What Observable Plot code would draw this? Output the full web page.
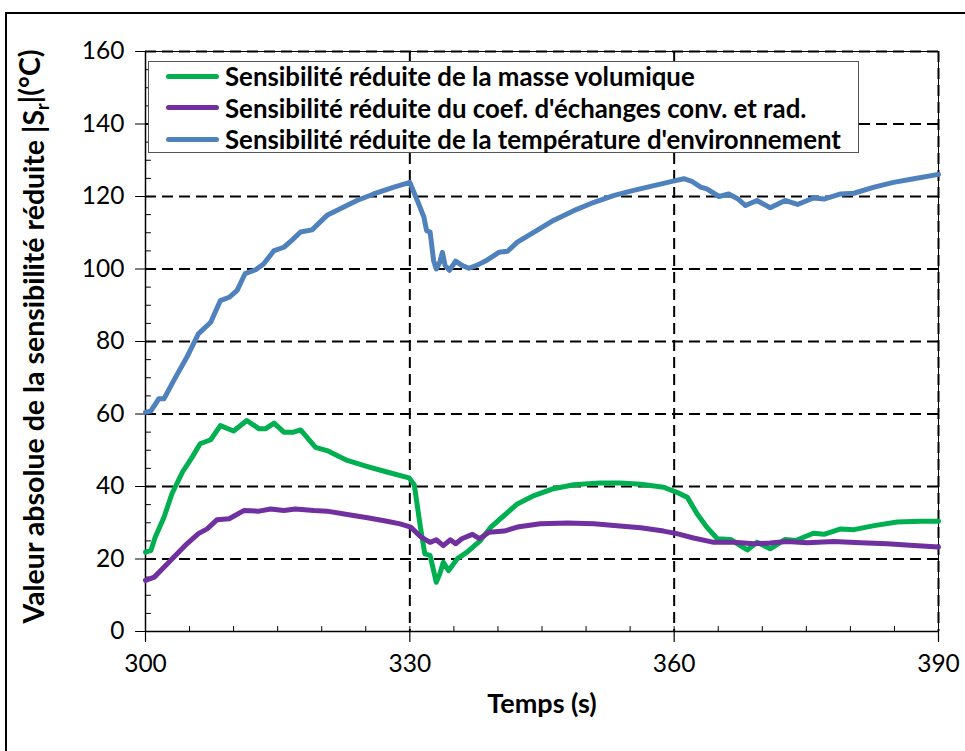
<!DOCTYPE html>
<html>
<head>
<meta charset="utf-8">
<script src="https://cdn.jsdelivr.net/npm/d3@7"></script>
<script src="https://cdn.jsdelivr.net/npm/@observablehq/plot@0.6"></script>
<style>
  html, body { margin: 0; padding: 0; background: #fff; overflow: hidden; }
  #wrap { position: relative; width: 965px; height: 751px; overflow: hidden; }
  #outer { position: absolute; left: 5px; top: 12px; width: 1000px; height: 800px; border: 2px solid #000; box-sizing: border-box; pointer-events: none; }
  #legend { position: absolute; left: 148px; top: 61px; width: 711px; height: 92px; box-sizing: border-box;
            border: 1.5px solid #555; background: #fff; font-family: Lato, sans-serif; font-weight: bold; font-size: 25.8px; color: #000; }
  .row { position: absolute; left: 0; height: 30px; display: flex; align-items: center; white-space: nowrap; }
  .sw { display: inline-block; width: 53px; height: 5px; border-radius: 3px; margin-left: 17px; margin-right: 6px; }
  svg text { fill: #000; }
</style>
</head>
<body>
<div id="wrap">
  <div id="chart"></div>
  <div id="legend"></div>
  <div id="outer"></div>
</div>
<script>
// ---- Data ----
const xTicks = [300, 330, 360, 390];
const yTicks = [0, 20, 40, 60, 80, 100, 120, 140, 160];

const seriesNames = [
  "Sensibilité réduite de la masse volumique",
  "Sensibilité réduite du coef. d'échanges conv. et rad.",
  "Sensibilité réduite de la température d'environnement"
];
const seriesColors = ["#00B050", "#7030A0", "#4F81BD"];

// Sensibilité réduite de la masse volumique (green)
const tMasse = [300.0, 300.6, 301.1, 302.1, 303.0, 304.2, 305.3, 306.2, 307.4, 308.5, 310.0, 311.5, 312.9, 313.6, 314.6, 315.7, 316.8, 317.6, 319.3, 320.6, 322.9, 325.2, 327.4, 329.9, 330.5, 331.2, 331.7, 332.3, 333.0, 333.4, 333.8, 334.4, 335.4, 336.5, 338.0, 339.2, 340.7, 342.2, 344.1, 346.3, 348.6, 351.6, 353.9, 356.2, 358.8, 360.3, 361.5, 362.6, 363.7, 364.9, 366.4, 367.5, 368.3, 369.4, 370.9, 372.6, 373.8, 375.8, 377.0, 378.9, 380.4, 382.7, 385.3, 388.0, 390.0];
const sMasse = [21.9, 22.3, 26.0, 31.5, 38.0, 44.0, 48.1, 51.8, 52.9, 56.8, 55.3, 58.2, 55.9, 55.9, 57.5, 55.0, 55.0, 55.6, 50.8, 49.9, 47.2, 45.5, 44.0, 42.4, 40.5, 28.8, 21.4, 21.0, 13.6, 15.9, 19.1, 16.8, 20.1, 21.9, 25.1, 28.8, 32.0, 35.2, 37.5, 39.4, 40.5, 41.0, 41.0, 40.6, 39.8, 38.4, 37.0, 32.5, 28.8, 25.6, 25.4, 23.7, 22.5, 24.6, 22.8, 25.4, 25.1, 27.1, 26.8, 28.3, 28.1, 29.2, 30.2, 30.4, 30.4];

// Sensibilité réduite du coef. d'échanges conv. et rad. (purple)
const tCoef = [300.0, 301.0, 302.1, 303.2, 304.7, 306.0, 307.0, 308.1, 309.5, 311.2, 312.9, 314.2, 315.7, 317.0, 319.1, 320.6, 322.9, 325.2, 327.4, 328.9, 330.1, 331.2, 332.3, 333.0, 333.8, 334.6, 335.2, 335.9, 337.1, 337.9, 339.0, 340.7, 342.2, 344.8, 347.9, 350.9, 353.5, 356.2, 358.8, 360.3, 362.2, 364.5, 366.8, 369.0, 370.9, 372.8, 375.1, 378.1, 381.2, 384.2, 387.2, 390.0];
const sCoef = [14.1, 15.0, 17.7, 20.5, 24.2, 27.0, 28.3, 30.8, 31.1, 33.4, 33.2, 33.8, 33.4, 33.8, 33.4, 33.2, 32.3, 31.4, 30.4, 29.7, 28.8, 26.2, 24.6, 25.3, 23.7, 25.3, 24.2, 25.6, 26.8, 25.6, 27.4, 27.7, 28.8, 29.7, 29.9, 29.7, 29.2, 28.6, 27.7, 27.0, 25.8, 24.6, 24.6, 24.2, 24.4, 24.8, 24.5, 24.8, 24.5, 24.2, 23.7, 23.3];

// Sensibilité réduite de la température d'environnement (blue)
const tTemp = [300.0, 300.6, 301.5, 302.1, 303.2, 304.7, 306.0, 307.4, 308.5, 309.5, 310.4, 311.3, 312.5, 313.4, 314.6, 315.7, 316.6, 317.6, 318.9, 320.6, 322.1, 324.0, 325.9, 328.2, 330.0, 331.0, 331.6, 331.9, 332.3, 332.7, 333.0, 333.4, 333.7, 334.0, 334.5, 335.2, 335.9, 336.7, 337.6, 338.8, 340.1, 341.1, 342.2, 344.1, 346.3, 348.6, 350.9, 353.2, 355.4, 357.7, 360.0, 361.1, 362.0, 363.0, 363.7, 365.1, 366.2, 367.2, 368.1, 369.4, 370.9, 372.6, 374.0, 375.8, 377.0, 378.9, 380.4, 382.7, 384.9, 387.2, 390.0];
const sTemp = [60.5, 60.8, 64.2, 64.2, 69.2, 75.7, 82.1, 85.3, 91.3, 92.2, 94.1, 98.7, 99.8, 101.4, 105.1, 106.0, 107.9, 110.2, 110.8, 114.8, 116.6, 118.9, 120.7, 122.6, 123.9, 118.0, 114.3, 110.6, 110.2, 102.3, 100.0, 101.9, 104.6, 101.0, 99.6, 102.2, 101.0, 100.2, 101.0, 102.5, 104.6, 104.9, 107.4, 110.2, 113.4, 116.1, 118.4, 120.3, 121.7, 123.0, 124.3, 124.9, 124.2, 122.6, 122.1, 120.0, 120.7, 119.4, 117.5, 118.9, 116.9, 118.9, 117.8, 119.6, 119.3, 120.7, 120.9, 122.6, 123.9, 124.9, 126.1];

const xMinor = d3.range(300, 390.01, 5);
const yMinor = d3.range(0, 160.01, 5);

// ---- Build ----
const toRows = (ts, vs) => ts.map((t, i) => ({t, v: vs[i]}));
const masse = toRows(tMasse, sMasse);
const coef = toRows(tCoef, sCoef);
const temp = toRows(tTemp, sTemp);

const lineShape = {draw(context, l) { context.moveTo(0, 0); context.lineTo(0, -l); }};
const dash = "11,6";

const chart = Plot.plot({
  width: 965,
  height: 751,
  marginLeft: 145,
  marginRight: 27,
  marginTop: 51,
  marginBottom: 120,
  style: {fontFamily: "Lato, sans-serif", fontSize: "24.5px", background: "transparent", color: "#000", overflow: "visible"},
  x: {domain: [300, 390]},
  y: {domain: [0, 160]},
  marks: [
    Plot.gridY(yTicks.filter(d => d > 0), {stroke: "#000", strokeOpacity: 1, strokeWidth: 2, strokeDasharray: dash}),
    Plot.gridX(xTicks.filter(d => d > 300), {stroke: "#000", strokeOpacity: 1, strokeWidth: 2, strokeDasharray: dash}),
    Plot.frame({stroke: "#000", strokeWidth: 1}),
    Plot.ruleX([300], {stroke: "#000", strokeWidth: 1.5}),
    Plot.ruleY([0], {stroke: "#000", strokeWidth: 1.5}),
    // minor ticks (inside)
    Plot.vector(yMinor, {y: d => d, frameAnchor: "left", length: 5, rotate: 90, anchor: "start", shape: lineShape, stroke: "#000", strokeWidth: 1}),
    Plot.vector(xMinor, {x: d => d, frameAnchor: "bottom", length: 5, rotate: 0, anchor: "start", shape: lineShape, stroke: "#000", strokeWidth: 1}),
    // major ticks (outside)
    Plot.vector(yTicks, {y: d => d, frameAnchor: "left", length: 10, rotate: -90, anchor: "start", shape: lineShape, stroke: "#000", strokeWidth: 1.2}),
    Plot.vector(xTicks, {x: d => d, frameAnchor: "bottom", length: 10, rotate: 180, anchor: "start", shape: lineShape, stroke: "#000", strokeWidth: 1.2}),
    Plot.axisY({ticks: yTicks, tickSize: 0, tickPadding: 21, label: null}),
    Plot.axisX({ticks: xTicks, tickSize: 0, tickPadding: 23, label: null}),
    // series
    Plot.line(masse, {x: "t", y: "v", stroke: seriesColors[0], strokeWidth: 5, strokeLinejoin: "round", strokeLinecap: "round"}),
    Plot.line(coef, {x: "t", y: "v", stroke: seriesColors[1], strokeWidth: 5, strokeLinejoin: "round", strokeLinecap: "round"}),
    Plot.line(temp, {x: "t", y: "v", stroke: seriesColors[2], strokeWidth: 5, strokeLinejoin: "round", strokeLinecap: "round"}),
    // axis titles
    Plot.text(["Temps (s)"], {frameAnchor: "bottom", dy: 81, fontWeight: "bold", fontSize: 27}),
    Plot.text(["Valeur absolue de la sensibilité réduite |Sr|(°C)"], {frameAnchor: "left", dx: -111, dy: -5, rotate: -90, textAnchor: "middle", fontWeight: "bold", fontSize: 28.5})
  ]
});
document.getElementById("chart").appendChild(chart);

// subscript r in the y title
d3.select(chart).selectAll("text").filter(function() { return this.textContent.startsWith("Valeur"); })
  .each(function() {
    const t = d3.select(this);
    t.text(null);
    t.append("tspan").text("Valeur absolue de la sensibilité réduite |S");
    t.append("tspan").attr("dy", "0.3em").attr("font-size", "18px").text("r");
    t.append("tspan").attr("dy", "-0.3em").text("|(°C)");
  });

// legend
const legend = document.getElementById("legend");
seriesNames.forEach((name, i) => {
  const row = document.createElement("div");
  row.className = "row";
  row.style.top = (-1 + i * 31.5) + "px";
  const sw = document.createElement("span");
  sw.className = "sw";
  sw.style.background = seriesColors[i];
  const lab = document.createElement("span");
  lab.textContent = name;
  row.appendChild(sw);
  row.appendChild(lab);
  legend.appendChild(row);
});
</script>
</body>
</html>
